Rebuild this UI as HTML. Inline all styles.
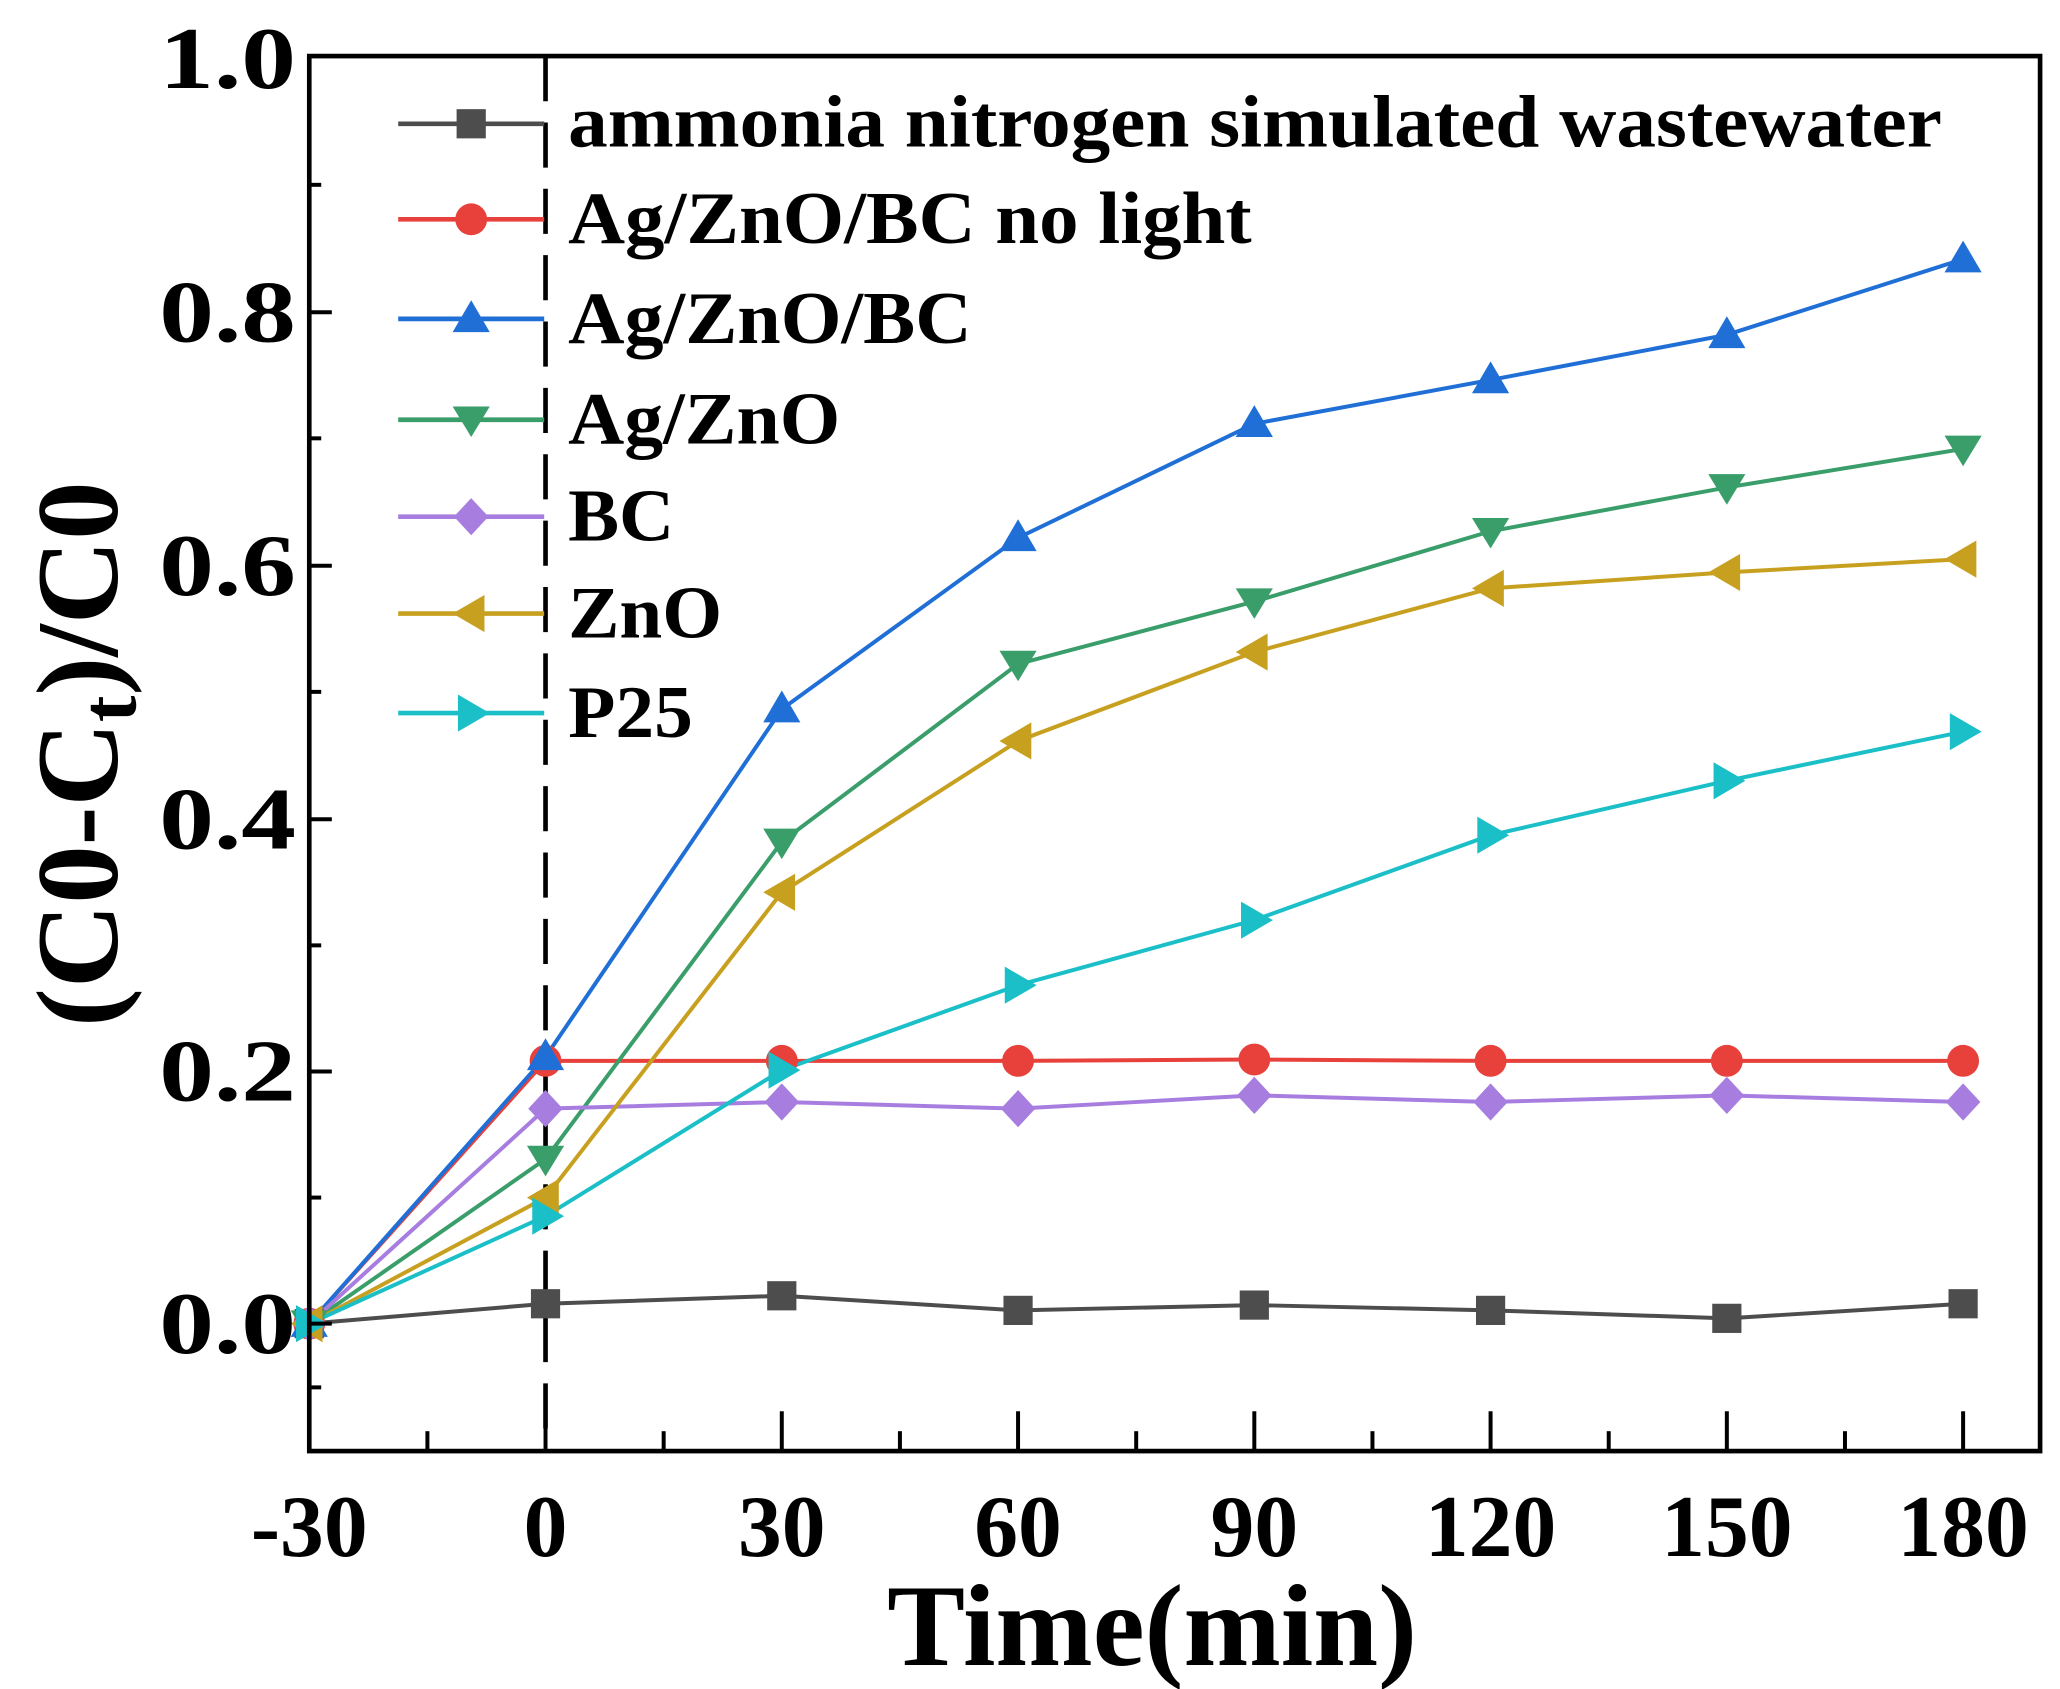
<!DOCTYPE html>
<html><head><meta charset="utf-8"><style>html,body{margin:0;padding:0;background:#fff}svg{display:block}</style></head>
<body>
<svg width="2060" height="1689" viewBox="0 0 1552 1272" xmlns="http://www.w3.org/2000/svg" font-family="'Liberation Serif',serif" font-weight="bold">
<rect width="1552" height="1272" fill="#fff"/>
<g stroke="#000" stroke-width="3.5">
<line x1="411" y1="42" x2="411" y2="1093" stroke-dasharray="34,16"/>
</g>
<g id="series" fill="none" stroke-width="3">
<polyline stroke="#4d4d4d" points="233,997 411,982 589,976 767,987 945,983 1123,987 1301,993 1479,982"/>
<polyline stroke="#e8413c" points="233,997 411,799 589,799 767,799 945,798 1123,799 1301,799 1479,799"/>
<polyline stroke="#1f6fd6" points="233,997 411,796 589,534 767,405 945,319 1123,286 1301,252 1479,195"/>
<polyline stroke="#3a9e6a" points="233,997 411,873 589,634 767,500 945,453 1123,400 1301,367 1479,338"/>
<polyline stroke="#a77ee0" points="233,997 411,835 589,830 767,835 945,825 1123,830 1301,825 1479,830"/>
<polyline stroke="#c8a020" points="233,997 411,902 589,672 767,558 945,491 1123,443 1301,431 1479,421"/>
<polyline stroke="#1bbfc7" points="233,997 411,916 589,806 767,742 945,693 1123,629 1301,588 1479,551"/>
</g>
<defs>
<rect id="sq" x="-11" y="-11" width="22" height="22"/>
<circle id="ci" r="12"/>
<path id="tu" d="M0,-14 L14,10 L-14,10Z"/>
<path id="td" d="M0,13 L14,-10 L-14,-10Z"/>
<path id="di" d="M0,-14 L13,0 L0,14 L-13,0Z"/>
<path id="tl" d="M-14,0 L10,-14 L10,14Z"/>
<path id="tr" d="M14,0 L-10,-14 L-10,14Z"/>
</defs>
<g fill="#4d4d4d">
<use href="#sq" x="233" y="997"/><use href="#sq" x="411" y="982"/><use href="#sq" x="589" y="976"/><use href="#sq" x="767" y="987"/><use href="#sq" x="945" y="983"/><use href="#sq" x="1123" y="987"/><use href="#sq" x="1301" y="993"/><use href="#sq" x="1479" y="982"/></g>
<g fill="#e8413c">
<use href="#ci" x="233" y="997"/><use href="#ci" x="411" y="799"/><use href="#ci" x="589" y="799"/><use href="#ci" x="767" y="799"/><use href="#ci" x="945" y="798"/><use href="#ci" x="1123" y="799"/><use href="#ci" x="1301" y="799"/><use href="#ci" x="1479" y="799"/></g>
<g fill="#1f6fd6">
<use href="#tu" x="233" y="997"/><use href="#tu" x="411" y="796"/><use href="#tu" x="589" y="534"/><use href="#tu" x="767" y="405"/><use href="#tu" x="945" y="319"/><use href="#tu" x="1123" y="286"/><use href="#tu" x="1301" y="252"/><use href="#tu" x="1479" y="195"/></g>
<g fill="#3a9e6a">
<use href="#td" x="233" y="997"/><use href="#td" x="411" y="873"/><use href="#td" x="589" y="634"/><use href="#td" x="767" y="500"/><use href="#td" x="945" y="453"/><use href="#td" x="1123" y="400"/><use href="#td" x="1301" y="367"/><use href="#td" x="1479" y="338"/></g>
<g fill="#a77ee0">
<use href="#di" x="233" y="997"/><use href="#di" x="411" y="835"/><use href="#di" x="589" y="830"/><use href="#di" x="767" y="835"/><use href="#di" x="945" y="825"/><use href="#di" x="1123" y="830"/><use href="#di" x="1301" y="825"/><use href="#di" x="1479" y="830"/></g>
<g fill="#c8a020">
<use href="#tl" x="233" y="997"/><use href="#tl" x="411" y="902"/><use href="#tl" x="589" y="672"/><use href="#tl" x="767" y="558"/><use href="#tl" x="945" y="491"/><use href="#tl" x="1123" y="443"/><use href="#tl" x="1301" y="431"/><use href="#tl" x="1479" y="421"/></g>
<g fill="#1bbfc7">
<use href="#tr" x="233" y="997"/><use href="#tr" x="411" y="916"/><use href="#tr" x="589" y="806"/><use href="#tr" x="767" y="742"/><use href="#tr" x="945" y="693"/><use href="#tr" x="1123" y="629"/><use href="#tr" x="1301" y="588"/><use href="#tr" x="1479" y="551"/></g>
<!-- legend -->
<g stroke-width="3.5">
<line x1="300" y1="93" x2="410" y2="93" stroke="#4d4d4d"/>
<line x1="300" y1="165" x2="410" y2="165" stroke="#e8413c"/>
<line x1="300" y1="240" x2="410" y2="240" stroke="#1f6fd6"/>
<line x1="300" y1="316" x2="410" y2="316" stroke="#3a9e6a"/>
<line x1="300" y1="389" x2="410" y2="389" stroke="#a77ee0"/>
<line x1="300" y1="462" x2="410" y2="462" stroke="#c8a020"/>
<line x1="300" y1="537" x2="410" y2="537" stroke="#1bbfc7"/>
</g>
<use href="#sq" x="355" y="93" fill="#4d4d4d"/>
<use href="#ci" x="355" y="165" fill="#e8413c"/>
<use href="#tu" x="355" y="240" fill="#1f6fd6"/>
<use href="#td" x="355" y="316" fill="#3a9e6a"/>
<use href="#di" x="355" y="389" fill="#a77ee0"/>
<use href="#tl" x="355" y="462" fill="#c8a020"/>
<use href="#tr" x="355" y="537" fill="#1bbfc7"/>
<g font-size="56" fill="#000" lengthAdjust="spacingAndGlyphs">
<text x="428" y="110" textLength="1035" lengthAdjust="spacingAndGlyphs">ammonia nitrogen simulated wastewater</text>
<text x="428" y="183" textLength="515" lengthAdjust="spacingAndGlyphs">Ag/ZnO/BC no light</text>
<text x="428" y="258" textLength="304" lengthAdjust="spacingAndGlyphs">Ag/ZnO/BC</text>
<text x="428" y="334" textLength="205" lengthAdjust="spacingAndGlyphs">Ag/ZnO</text>
<text x="428" y="407" textLength="80" lengthAdjust="spacingAndGlyphs">BC</text>
<text x="428" y="480" textLength="116" lengthAdjust="spacingAndGlyphs">ZnO</text>
<text x="428" y="555" textLength="94" lengthAdjust="spacingAndGlyphs">P25</text>
</g>
<!-- axes -->
<rect x="233" y="42" width="1304" height="1051" fill="none" stroke="#000" stroke-width="3.5"/>
<g stroke="#000" stroke-width="3">
<line x1="233" y1="997" x2="250" y2="997"/><line x1="233" y1="902" x2="242" y2="902"/>
<line x1="233" y1="807" x2="250" y2="807"/><line x1="233" y1="712" x2="242" y2="712"/>
<line x1="233" y1="617" x2="250" y2="617"/><line x1="233" y1="521" x2="242" y2="521"/>
<line x1="233" y1="426" x2="250" y2="426"/><line x1="233" y1="330" x2="242" y2="330"/>
<line x1="233" y1="235" x2="250" y2="235"/><line x1="233" y1="139" x2="242" y2="139"/>
<line x1="233" y1="1045" x2="242" y2="1045"/>
<line x1="411" y1="1093" x2="411" y2="1063"/><line x1="589" y1="1093" x2="589" y2="1063"/><line x1="767" y1="1093" x2="767" y2="1063"/><line x1="945" y1="1093" x2="945" y2="1063"/><line x1="1123" y1="1093" x2="1123" y2="1063"/><line x1="1301" y1="1093" x2="1301" y2="1063"/><line x1="1479" y1="1093" x2="1479" y2="1063"/>
<line x1="322" y1="1093" x2="322" y2="1078"/><line x1="500" y1="1093" x2="500" y2="1078"/><line x1="678" y1="1093" x2="678" y2="1078"/><line x1="856" y1="1093" x2="856" y2="1078"/><line x1="1034" y1="1093" x2="1034" y2="1078"/><line x1="1212" y1="1093" x2="1212" y2="1078"/><line x1="1390" y1="1093" x2="1390" y2="1078"/>
</g>
<g font-size="66" fill="#000">
<text x="120" y="1019" textLength="103" lengthAdjust="spacingAndGlyphs">0.0</text>
<text x="120" y="829" textLength="103" lengthAdjust="spacingAndGlyphs">0.2</text>
<text x="120" y="639" textLength="103" lengthAdjust="spacingAndGlyphs">0.4</text>
<text x="120" y="448" textLength="103" lengthAdjust="spacingAndGlyphs">0.6</text>
<text x="120" y="257" textLength="103" lengthAdjust="spacingAndGlyphs">0.8</text>
<text x="120" y="66" textLength="103" lengthAdjust="spacingAndGlyphs">1.0</text>
</g>
<g font-size="66" text-anchor="middle" fill="#000">
<text x="233" y="1172">-30</text><text x="411" y="1172">0</text><text x="589" y="1172">30</text><text x="767" y="1172">60</text><text x="945" y="1172">90</text><text x="1123" y="1172">120</text><text x="1301" y="1172">150</text><text x="1479" y="1172">180</text>
</g>
<text x="868" y="1254" font-size="88" text-anchor="middle">Time(min)</text>
<text transform="translate(88,568) rotate(-90)" font-size="88" text-anchor="middle">(C0-C<tspan font-size="60" dy="14">t</tspan><tspan dy="-14">)/C0</tspan></text>
</svg>
</body></html>
